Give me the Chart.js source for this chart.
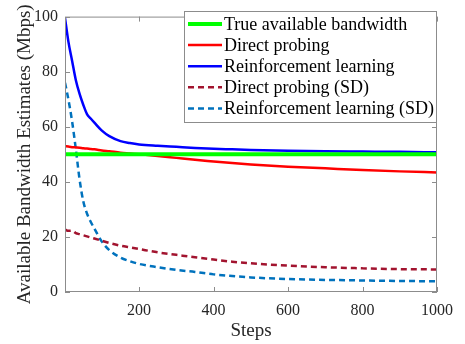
<!DOCTYPE html>
<html><head><meta charset="utf-8">
<script src="https://cdn.jsdelivr.net/npm/chart.js@4.4.1/dist/chart.umd.min.js"></script>
<style>html,body{margin:0;padding:0;background:#fff}#wrap{width:465px;height:344px}</style>
</head><body><div id="wrap"><canvas id="c" width="465" height="344"></canvas></div>
<script>
const steps = [1,10,20,30,40,50,60,70,80,100,120,150,175,200,250,300,350,400,450,500,600,700,800,900,1000];
const trueBw = [50,50,50,50,50,50,50,50,50,50,50,50,50,50,50,50,50,50,50,50,50,50,50,50,50];
const directProbing = [53.0,52.8,52.6,52.5,52.4,52.2,52.1,51.9,51.8,51.4,51.1,50.6,50.3,50.0,49.4,48.7,48.0,47.4,46.8,46.3,45.5,44.9,44.3,43.8,43.4];
const reinforcement = [99.5,91,84,77,72,68,64.6,63,61.5,58.6,56.6,54.8,54.1,53.6,53.1,52.7,52.3,52.0,51.8,51.6,51.3,51.1,51.0,50.9,50.7];
const directProbingSD = [22.7,22.2,22.3,21.4,21.0,20.6,20.2,19.8,19.4,18.6,17.8,16.8,16.2,15.6,14.4,13.5,12.6,11.8,11.0,10.4,9.6,9.0,8.6,8.3,8.2];
const reinforcementSD = [76,70,62,52,41,33,28.5,25.5,23,18.3,15.2,12.5,11.2,10.2,9.0,8.0,7.3,6.4,5.8,5.3,4.7,4.4,4.2,4.0,3.9];
const xTicks = [200,400,600,800,1000];
const yTicks = [0,20,40,60,80,100];
const labels = ['True available bandwidth','Direct probing','Reinforcement learning','Direct probing (SD)','Reinforcement learning (SD)'];

const pts = arr => arr.map((v,i)=>({x:steps[i],y:v}));
const serif = "'Liberation Serif','DejaVu Serif',serif";
const textColor = '#262626';
const axisColor = '#8c8c8c';

const datasets = [
  {label:labels[0],data:pts(trueBw),borderColor:'#00ff00',borderWidth:4,borderDash:[]},
  {label:labels[1],data:pts(directProbing),borderColor:'#ff0000',borderWidth:2.5,borderDash:[]},
  {label:labels[2],data:pts(reinforcement),borderColor:'#0000ff',borderWidth:2.5,borderDash:[]},
  {label:labels[3],data:pts(directProbingSD),borderColor:'#a2142f',borderWidth:2.5,borderDash:[6,4]},
  {label:labels[4],data:pts(reinforcementSD),borderColor:'#0072bd',borderWidth:2.5,borderDash:[6,4]}
].map(d=>Object.assign(d,{pointRadius:0,fill:false,cubicInterpolationMode:'monotone'}));

const frame = {
  id:'frame',
  afterDatasetsDraw(chart){
    const {ctx, chartArea:a, scales:{x,y}} = chart;
    ctx.save();
    ctx.strokeStyle = axisColor; ctx.lineWidth = 1;
    ctx.strokeRect(a.left+0.5, a.top+0.5, a.right-a.left-1, a.bottom-a.top-1);
    const L = 5;
    ctx.beginPath();
    xTicks.forEach(v=>{const p=Math.round(x.getPixelForValue(v))+0.5;
      ctx.moveTo(p,a.bottom); ctx.lineTo(p,a.bottom-L);
      ctx.moveTo(p,a.top); ctx.lineTo(p,a.top+L);});
    yTicks.forEach(v=>{const p=Math.round(y.getPixelForValue(v))+0.5;
      ctx.moveTo(a.left,p); ctx.lineTo(a.left+L,p);
      ctx.moveTo(a.right,p); ctx.lineTo(a.right-L,p);});
    ctx.stroke();
    // legend
    const bx = 184.5, by = 11.5, bw = a.right - 184.5 - 0.5, bh = 111;
    ctx.fillStyle = '#fff'; ctx.fillRect(bx,by,bw,bh);
    ctx.strokeStyle = '#8c8c8c'; ctx.strokeRect(bx,by,bw,bh);
    ctx.font = '18px ' + serif; ctx.textBaseline = 'middle'; ctx.textAlign = 'left';
    chart.data.datasets.forEach((d,i)=>{
      const cy = 24 + i*21.1;
      ctx.beginPath(); ctx.strokeStyle = d.borderColor; ctx.lineWidth = d.borderWidth;
      ctx.setLineDash(d.borderDash.length ? [6,4] : []);
      ctx.moveTo(188,cy); ctx.lineTo(222,cy); ctx.stroke();
      ctx.setLineDash([]);
      ctx.fillStyle = '#000'; ctx.fillText(d.label, 224, cy+1);
    });
    ctx.restore();
  }
};

new Chart(document.getElementById('c'), {
  type:'line',
  data:{datasets},
  plugins:[frame],
  options:{
    responsive:false, animation:false, devicePixelRatio:1,
    layout:{padding:{top:11,right:28,left:0,bottom:0}},
    plugins:{legend:{display:false},tooltip:{enabled:false}},
    scales:{
      x:{type:'linear',min:1,max:1000,
        afterBuildTicks:s=>{s.ticks = xTicks.map(v=>({value:v}));},
        afterFit:s=>{s.height = 52;},
        grid:{display:false,drawTicks:false},border:{display:false},
        ticks:{color:textColor,font:{family:serif,size:16},padding:9,maxRotation:0,callback:v=>String(v)},
        title:{display:true,text:'Steps',color:textColor,font:{family:serif,size:19},padding:{top:0,bottom:2}}
      },
      y:{type:'linear',min:0,max:100,
        afterBuildTicks:s=>{s.ticks = yTicks.map(v=>({value:v}));},
        afterFit:s=>{s.width = 65;},
        grid:{display:false,drawTicks:false},border:{display:false},
        ticks:{color:textColor,font:{family:serif,size:16},padding:7,callback:v=>String(v)},
        title:{display:true,text:'Available Bandwidth Estimates (Mbps)',color:textColor,font:{family:serif,size:19},padding:{top:14,bottom:0}}
      }
    }
  }
});
</script></body></html>
